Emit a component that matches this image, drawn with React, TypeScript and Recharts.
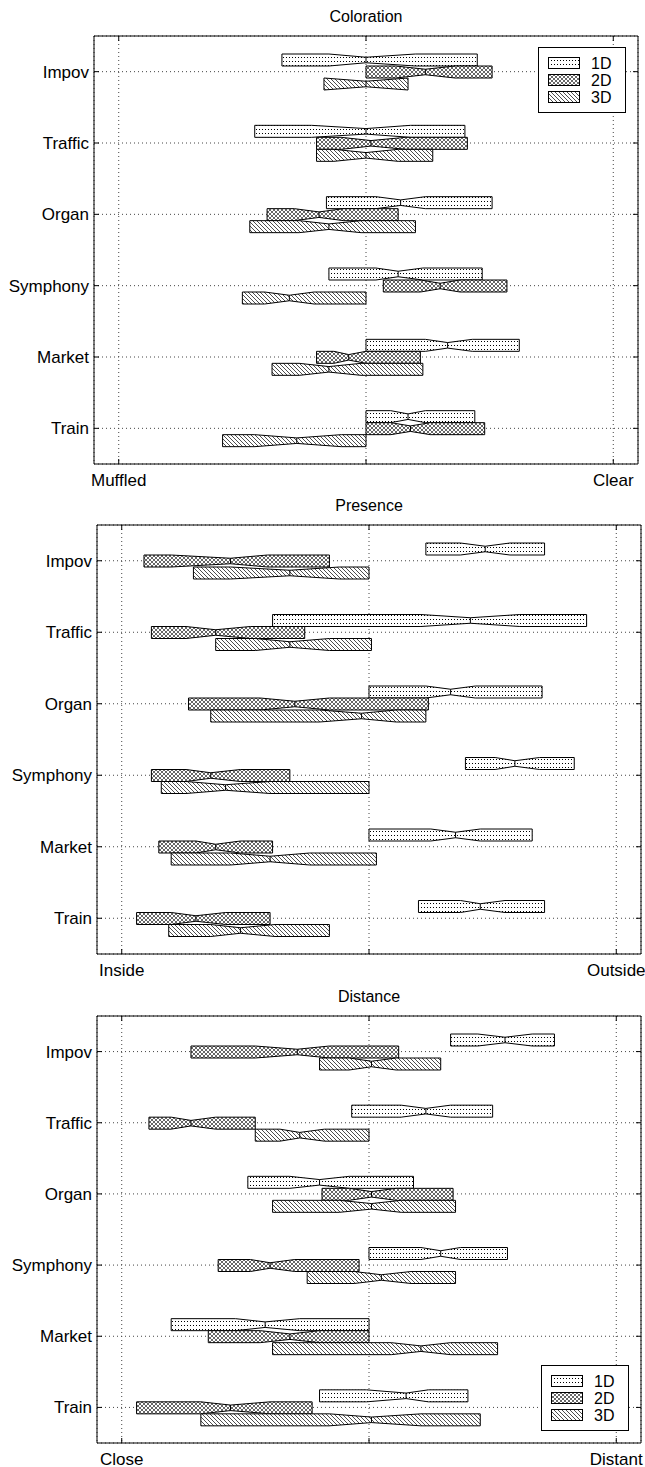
import React from "react";
import { BarChart, Bar, XAxis, YAxis, CartesianGrid, ReferenceArea } from "recharts";

const categories = ["Impov", "Traffic", "Organ", "Symphony", "Market", "Train"];
const seriesNames = ["1D", "2D", "3D"];
const tickValues = [-1, 0, 1];

// each box: [lower quartile, notch low, median, notch high, upper quartile]
const coloration1D = [
  [-0.34, -0.15, 0.0, 0.2, 0.45],
  [-0.45, -0.22, 0.0, 0.18, 0.4],
  [-0.16, 0.04, 0.14, 0.24, 0.51],
  [-0.15, 0.04, 0.13, 0.23, 0.47],
  [0.0, 0.24, 0.33, 0.43, 0.62],
  [0.0, 0.1, 0.17, 0.24, 0.44],
];
const coloration2D = [
  [0.0, 0.12, 0.24, 0.36, 0.51],
  [-0.2, -0.1, 0.02, 0.16, 0.41],
  [-0.4, -0.29, -0.19, -0.09, 0.13],
  [0.07, 0.22, 0.3, 0.38, 0.57],
  [-0.2, -0.13, -0.07, 0.0, 0.22],
  [0.0, 0.1, 0.18, 0.26, 0.48],
];
const coloration3D = [
  [-0.17, -0.17, 0.0, 0.17, 0.17],
  [-0.2, -0.13, 0.0, 0.13, 0.27],
  [-0.47, -0.27, -0.15, -0.02, 0.2],
  [-0.5, -0.41, -0.31, -0.21, 0.0],
  [-0.38, -0.27, -0.15, -0.02, 0.23],
  [-0.58, -0.45, -0.28, -0.1, 0.0],
];
const colorationTicks = ["Muffled", "", "Clear"];

const presence1D = [
  [0.23, 0.37, 0.47, 0.57, 0.71],
  [-0.39, 0.21, 0.41, 0.61, 0.88],
  [0.0, 0.23, 0.33, 0.43, 0.7],
  [0.39, 0.51, 0.59, 0.69, 0.83],
  [0.0, 0.25, 0.35, 0.45, 0.66],
  [0.2, 0.37, 0.45, 0.55, 0.71],
];
const presence2D = [
  [-0.91, -0.8, -0.56, -0.41, -0.16],
  [-0.88, -0.74, -0.62, -0.48, -0.26],
  [-0.73, -0.44, -0.3, -0.16, 0.24],
  [-0.88, -0.74, -0.64, -0.52, -0.32],
  [-0.85, -0.7, -0.62, -0.52, -0.39],
  [-0.94, -0.8, -0.7, -0.58, -0.4],
];
const presence3D = [
  [-0.71, -0.56, -0.32, -0.12, 0.0],
  [-0.62, -0.46, -0.32, -0.16, 0.01],
  [-0.64, -0.2, -0.03, 0.11, 0.23],
  [-0.84, -0.74, -0.58, -0.4, 0.0],
  [-0.8, -0.56, -0.4, -0.24, 0.03],
  [-0.81, -0.64, -0.52, -0.38, -0.16],
];
const presenceTicks = ["Inside", "", "Outside"];

const distance1D = [
  [0.33, 0.44, 0.55, 0.66, 0.75],
  [-0.07, 0.13, 0.23, 0.33, 0.5],
  [-0.49, -0.32, -0.2, -0.08, 0.18],
  [0.0, 0.21, 0.29, 0.37, 0.56],
  [-0.8, -0.54, -0.42, -0.28, 0.0],
  [-0.2, -0.01, 0.15, 0.24, 0.4],
];
const distance2D = [
  [-0.72, -0.46, -0.29, -0.16, 0.12],
  [-0.89, -0.8, -0.72, -0.62, -0.46],
  [-0.19, -0.08, 0.01, 0.11, 0.34],
  [-0.61, -0.48, -0.4, -0.3, -0.04],
  [-0.65, -0.44, -0.32, -0.2, 0.0],
  [-0.94, -0.68, -0.56, -0.4, -0.23],
];
const distance3D = [
  [-0.2, -0.08, 0.01, 0.11, 0.29],
  [-0.46, -0.36, -0.28, -0.18, 0.0],
  [-0.39, -0.12, 0.01, 0.13, 0.35],
  [-0.25, -0.06, 0.05, 0.17, 0.35],
  [-0.39, 0.09, 0.21, 0.33, 0.52],
  [-0.68, -0.16, 0.01, 0.21, 0.45],
];
const distanceTicks = ["Close", "", "Distant"];

const FONT = "'Liberation Sans', Arial, sans-serif";
const fills = ["url(#pat1D)", "url(#pat2D)", "url(#pat3D)"];

function NotchBox(props: any) {
  const { x, y, width, height, payload, idx } = props;
  const s = payload.s[idx];
  const q1 = s[0], q3 = s[4];
  const px = (t: number) => x + ((t - q1) / (q3 - q1)) * width;
  const a = px(Math.max(s[1], q1));
  const m = px(s[2]);
  const b = px(Math.min(s[3], q3));
  const top = y, bot = y + height;
  const ins = height * 0.27;
  const pts = [
    [x, top], [a, top], [m, top + ins], [b, top], [x + width, top],
    [x + width, bot], [b, bot], [m, bot - ins], [a, bot], [x, bot],
  ].map((p) => p.join(",")).join(" ");
  return (
    <g>
      <polygon points={pts} fill={fills[idx]} stroke="#000" strokeWidth={1} />
      <line x1={m} x2={m} y1={top + ins} y2={bot - ins} stroke="#000" strokeWidth={1} />
    </g>
  );
}

function Legend({ left, top }: { left: number; top: number }) {
  return (
    <svg width={88} height={66} style={{ position: "absolute", left, top }}>
      <rect x={0.5} y={0.5} width={87} height={65} fill="#fff" stroke="#000" />
      {seriesNames.map((n, i) => (
        <g key={n}>
          <rect x={10.5} y={10.5 + i * 17} width={31} height={11} fill={fills[i]} stroke="#000" />
          <text x={53} y={22 + i * 17} fontSize={16} fontFamily={FONT}>{n}</text>
        </g>
      ))}
    </svg>
  );
}

interface PanelProps {
  title: string;
  ticks: string[];
  d1: number[][];
  d2: number[][];
  d3: number[][];
  top: number;
  marginTop: number;
  plotH: number;
  plotLeft: number;
  plotRight: number;
  legend?: "top" | "bottom";
}

function Panel({ title, ticks, d1, d2, d3, top, marginTop, plotH, plotLeft, plotRight, legend }: PanelProps) {
  const rows = categories.map((cat, i) => ({ cat, s: [d1[i], d2[i], d3[i]] }));
  const plotW = plotRight - plotLeft;
  const height = marginTop + plotH + 26;
  const plotBottom = marginTop + plotH;

  const YTick = (p: any) => (
    <g>
      <line x1={plotLeft} x2={plotLeft + 5} y1={p.y} y2={p.y} stroke="#000" />
      <line x1={plotRight - 5} x2={plotRight} y1={p.y} y2={p.y} stroke="#000" />
      <text x={plotLeft - 5} y={p.y} dy={6} textAnchor="end" fontSize={17} fontFamily={FONT} fill="#000">
        {p.payload.value}
      </text>
    </g>
  );
  const XTick = (p: any) => {
    const i = tickValues.indexOf(p.payload.value);
    return (
      <g>
        <line x1={p.x} x2={p.x} y1={plotBottom - 5} y2={plotBottom} stroke="#000" />
        <line x1={p.x} x2={p.x} y1={marginTop} y2={marginTop + 5} stroke="#000" />
        <text x={p.x} y={plotBottom + 22} textAnchor="middle" fontSize={17} fontFamily={FONT} fill="#000">
          {ticks[i]}
        </text>
      </g>
    );
  };

  return (
    <div style={{ position: "absolute", left: 0, top, width: 645, height }}>
      <div
        style={{
          position: "absolute", left: plotLeft, width: plotW, top: marginTop - 29, height: 20,
          lineHeight: "20px", textAlign: "center", fontSize: 16, fontFamily: FONT,
        }}
      >
        {title}
      </div>
      <BarChart
        width={645}
        height={height}
        data={rows}
        layout="vertical"
        barGap={0}
        margin={{ top: marginTop, right: 645 - plotRight, left: 0, bottom: 0 }}
      >
        <CartesianGrid stroke="#444" strokeDasharray="1 3" />
        <XAxis
          type="number"
          domain={[-1.1, 1.1]}
          ticks={tickValues}
          allowDataOverflow
          height={26}
          axisLine={false}
          tickLine={false}
          tickSize={0}
          tick={XTick}
        />
        <YAxis
          type="category"
          dataKey="cat"
          width={plotLeft}
          axisLine={false}
          tickLine={false}
          tickSize={0}
          tick={YTick}
        />
        <ReferenceArea x1={-1.1} x2={1.1} fill="none" stroke="#000" strokeWidth={1} fillOpacity={0} />
        {seriesNames.map((n, idx) => (
          <Bar
            key={n}
            name={n}
            dataKey={(d: any) => [d.s[idx][0], d.s[idx][4]]}
            barSize={12}
            isAnimationActive={false}
            shape={(p: any) => <NotchBox {...p} idx={idx} />}
          />
        ))}
      </BarChart>
      {legend === "top" && <Legend left={plotRight - 100} top={marginTop + 11} />}
      {legend === "bottom" && <Legend left={plotRight - 100} top={plotBottom - 78} />}
    </div>
  );
}

export default function App() {
  return (
    <div style={{ position: "absolute", left: 0, top: 0, width: 645, height: 1467, background: "#fff", fontFamily: FONT }}>
      <svg width={0} height={0} style={{ position: "absolute" }}>
        <defs>
          <pattern id="pat1D" width={3} height={4} patternUnits="userSpaceOnUse">
            <rect width={3} height={4} fill="#fff" />
            <rect x={1} y={1} width={1} height={1} fill="#000" />
          </pattern>
          <pattern id="pat2D" width={4} height={4} patternUnits="userSpaceOnUse">
            <rect width={4} height={4} fill="#fff" />
            <path d="M0,0 L4,4 M4,0 L0,4" stroke="#000" strokeWidth={0.6} />
          </pattern>
          <pattern id="pat3D" width={4} height={4} patternUnits="userSpaceOnUse">
            <rect width={4} height={4} fill="#fff" />
            <path d="M0,0 L4,4 M-1,3 L1,5 M3,-1 L5,1" stroke="#000" strokeWidth={0.7} />
          </pattern>
        </defs>
      </svg>
      <Panel title="Coloration" ticks={colorationTicks} d1={coloration1D} d2={coloration2D} d3={coloration3D}
        top={0} marginTop={36} plotH={428} plotLeft={94} plotRight={638} legend="top" />
      <Panel title="Presence" ticks={presenceTicks} d1={presence1D} d2={presence2D} d3={presence3D}
        top={490} marginTop={35} plotH={429} plotLeft={97} plotRight={641} />
      <Panel title="Distance" ticks={distanceTicks} d1={distance1D} d2={distance2D} d3={distance3D}
        top={980} marginTop={36} plotH={427} plotLeft={97} plotRight={641} legend="bottom" />
    </div>
  );
}
